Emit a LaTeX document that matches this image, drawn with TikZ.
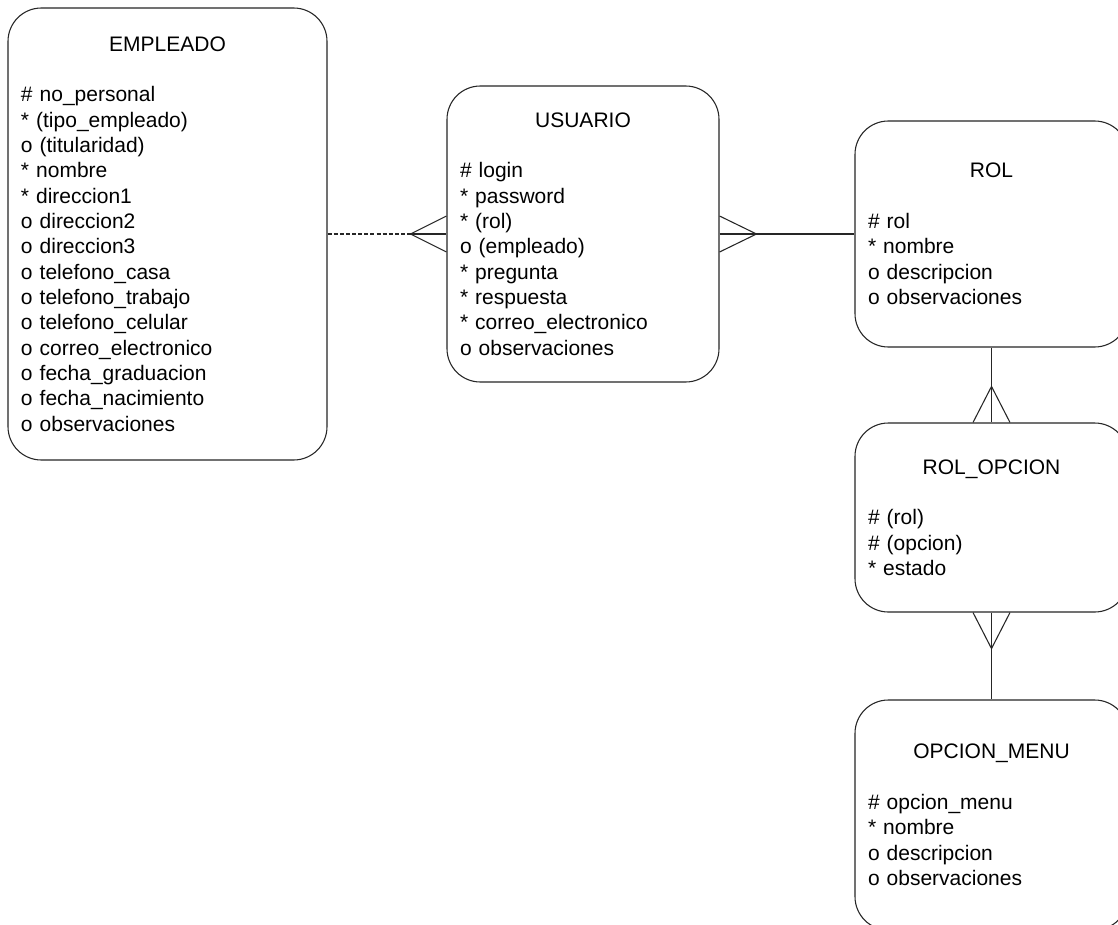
\documentclass[tikz,border=0pt]{standalone}
\usepackage{fontspec}
\setmainfont{Liberation Sans}
\usetikzlibrary{calc}

% entity body: centred title, a blank line, then left-aligned attributes
\newcommand{\entbody}[2]{\centering #1\par\vspace{\baselineskip}\raggedright #2\par}
% mandatory-attribute mark, kept apart from the star form of \\
\newcommand{\mand}{{*}}

\tikzset{
  entity/.style={draw=black!85, line width=0.8pt, rounded corners=25pt,
    rectangle, inner xsep=9.75pt, inner ysep=0pt, align=left,
    font=\fontsize{15.75pt}{19pt}\selectfont},
  rel/.style={draw=black!85, line width=0.8pt},
  optrel/.style={rel, dash pattern=on 3pt off 1.6pt},
}

\begin{document}
\begin{tikzpicture}[x=0.75pt, y=-0.75pt]
\useasboundingbox (0,0) rectangle (1118,925);
\fill[white] (0,0) rectangle (1118,925);
\clip (0,0) rectangle (1118,925);

\node[entity, minimum width=239.25pt, minimum height=339pt, text width=219.75pt]
  (emp) at (167.5,234) {\entbody{EMPLEADO}{%
  \# no\_personal\\
  \mand{} (tipo\_empleado)\\
  o (titularidad)\\
  \mand{} nombre\\
  \mand{} direccion1\\
  o direccion2\\
  o direccion3\\
  o telefono\_casa\\
  o telefono\_trabajo\\
  o telefono\_celular\\
  o correo\_electronico\\
  o fecha\_graduacion\\
  o fecha\_nacimiento\\
  o observaciones}};

\node[entity, minimum width=204pt, minimum height=222pt, text width=184.5pt]
  (usu) at (583,234) {\entbody{USUARIO}{%
  \# login\\
  \mand{} password\\
  \mand{} (rol)\\
  o (empleado)\\
  \mand{} pregunta\\
  \mand{} respuesta\\
  \mand{} correo\_electronico\\
  o observaciones}};

\node[entity, minimum width=204.75pt, minimum height=169.5pt, text width=185.25pt]
  (rol) at (991.5,234) {\entbody{ROL}{%
  \# rol\\
  \mand{} nombre\\
  o descripcion\\
  o observaciones}};

\node[entity, minimum width=204.75pt, minimum height=141.75pt, text width=185.25pt]
  (rolop) at (991.5,517.5) {\entbody{ROL\_OPCION}{%
  \# (rol)\\
  \# (opcion)\\
  \mand{} estado}};

\node[entity, minimum width=204.75pt, minimum height=172.5pt, text width=185.25pt]
  (opm) at (991.5,815) {\entbody{OPCION\_MENU}{%
  \# opcion\_menu\\
  \mand{} nombre\\
  o descripcion\\
  o observaciones}};

% EMPLEADO (optional) -- many USUARIO
\coordinate (fA) at ($(usu.west)+(-36,0)$);
\draw[optrel] (emp.east) -- (fA);
\draw[rel] (fA) -- (usu.west);
\draw[rel] ($(usu.west)+(0,-18)$) -- (fA) -- ($(usu.west)+(0,18)$);

% many USUARIO -- ROL
\coordinate (fB) at ($(usu.east)+(37,0)$);
\draw[rel] (usu.east) -- (rol.west);
\draw[rel] ($(usu.east)+(0,-18)$) -- (fB) -- ($(usu.east)+(0,18)$);

% ROL -- many ROL_OPCION
\coordinate (fC) at ($(rolop.north)+(0,-36)$);
\draw[rel] (rol.south) -- (rolop.north);
\draw[rel] ($(rolop.north)+(-18.5,0)$) -- (fC) -- ($(rolop.north)+(18.5,0)$);

% many ROL_OPCION -- OPCION_MENU
\coordinate (fD) at ($(rolop.south)+(0,36)$);
\draw[rel] (rolop.south) -- (opm.north);
\draw[rel] ($(rolop.south)+(-18.5,0)$) -- (fD) -- ($(rolop.south)+(18.5,0)$);
\end{tikzpicture}
\end{document}
